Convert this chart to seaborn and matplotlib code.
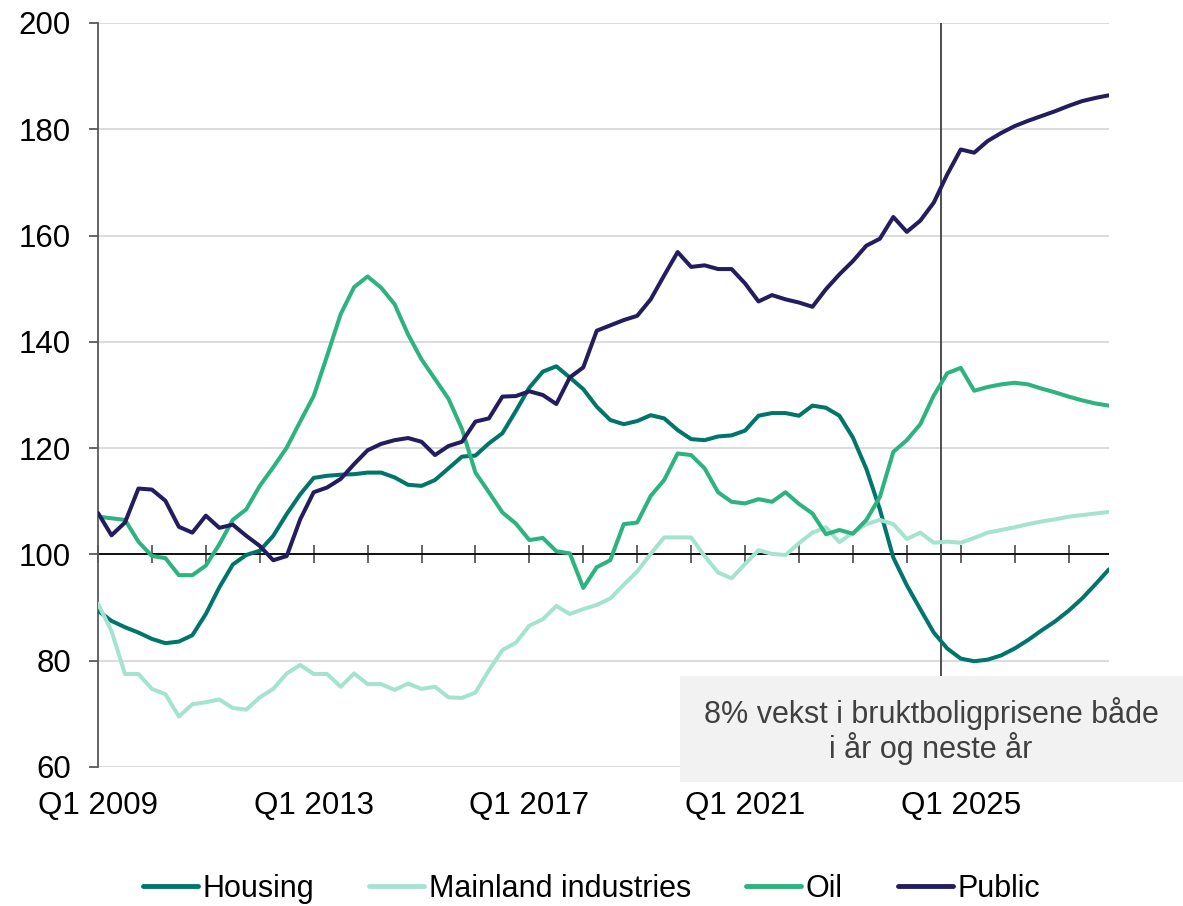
import numpy as np
import pandas as pd
import matplotlib
matplotlib.use('Agg')
import matplotlib.pyplot as plt
from matplotlib.patches import Rectangle
from matplotlib.lines import Line2D
import seaborn as sns

# Quarterly index, Q1 2009 .. Q4 2027
housing = [89.4, 87.5, 86.3, 85.3, 84.1, 83.3, 83.6, 84.8, 88.8, 93.8,
           98.1, 99.9, 100.7, 103.5, 107.6, 111.3, 114.4, 114.8, 115.0, 115.1,
           115.4, 115.4, 114.5, 113.1, 112.9, 114.0, 116.2, 118.4, 118.6, 120.9,
           122.8, 127.0, 131.4, 134.4, 135.4, 133.3, 131.1, 127.8, 125.3, 124.5,
           125.1, 126.2, 125.6, 123.4, 121.7, 121.5, 122.2, 122.4, 123.3, 126.1,
           126.6, 126.6, 126.1, 128.0, 127.6, 126.1, 122.0, 116.1, 108.5, 99.4,
           94.2, 89.7, 85.3, 82.3, 80.4, 79.9, 80.2, 81.0, 82.3, 83.9,
           85.7, 87.4, 89.4, 91.7, 94.4, 97.2]
mainland = [90.7, 85.6, 77.5, 77.5, 74.7, 73.7, 69.5, 71.8, 72.2, 72.7,
            71.1, 70.8, 73.1, 74.7, 77.6, 79.2, 77.5, 77.5, 75.1, 77.6,
            75.6, 75.6, 74.5, 75.7, 74.7, 75.1, 73.1, 73.0, 74.0, 78.2,
            82.0, 83.4, 86.6, 87.8, 90.3, 88.8, 89.7, 90.5, 91.7, 94.3,
            96.8, 100.1, 103.2, 103.2, 103.2, 99.7, 96.6, 95.5, 98.2, 100.8,
            100.1, 99.9, 102.1, 104.1, 105.1, 102.3, 104.1, 105.7, 106.5, 105.7,
            102.9, 104.1, 102.2, 102.4, 102.2, 103.1, 104.1, 104.6, 105.1, 105.7,
            106.2, 106.6, 107.1, 107.4, 107.7, 108.0]
oil = [107.1, 106.8, 106.5, 102.4, 99.7, 99.3, 96.1, 96.1, 97.9, 101.9,
       106.5, 108.5, 112.9, 116.4, 120.1, 125.0, 129.8, 137.4, 145.2, 150.3,
       152.3, 150.2, 147.1, 141.4, 136.7, 133.0, 129.3, 123.6, 115.4, 111.7,
       107.9, 105.8, 102.7, 103.1, 100.6, 100.2, 93.7, 97.6, 98.9, 105.7,
       106.0, 111.0, 114.0, 119.0, 118.7, 116.2, 111.7, 109.9, 109.6, 110.4,
       109.9, 111.7, 109.5, 107.7, 103.8, 104.6, 103.9, 106.5, 110.8, 119.3,
       121.5, 124.5, 129.9, 134.1, 135.1, 130.8, 131.5, 132.0, 132.3, 132.0,
       131.2, 130.5, 129.7, 129.0, 128.4, 128.0]
public = [107.8, 103.6, 106.0, 112.4, 112.2, 110.1, 105.2, 104.1, 107.3, 105.0,
          105.6, 103.5, 101.6, 98.9, 99.7, 106.6, 111.7, 112.6, 114.2, 117.0,
          119.6, 120.8, 121.5, 121.9, 121.2, 118.7, 120.4, 121.2, 125.0, 125.6,
          129.7, 129.8, 130.7, 130.0, 128.3, 133.3, 135.2, 142.1, 143.1, 144.1,
          144.9, 148.0, 152.5, 156.9, 154.1, 154.4, 153.7, 153.7, 151.0, 147.6,
          148.8, 148.0, 147.4, 146.6, 149.9, 152.7, 155.2, 158.1, 159.4, 163.5,
          160.7, 162.8, 166.2, 171.5, 176.2, 175.6, 177.8, 179.3, 180.6, 181.6,
          182.5, 183.4, 184.4, 185.3, 185.9, 186.4]

names = ['Housing', 'Mainland industries', 'Oil', 'Public']
colors = ['#00756b', '#a5e3d1', '#2cb37f', '#231d5e']
tick_labels = ['Q1 2009', 'Q1 2013', 'Q1 2017', 'Q1 2021', 'Q1 2025']
forecast_start = 62.5
note = '8% vekst i bruktboligprisene både\ni år og neste år'

n = len(housing)
df = pd.DataFrame({
    'quarter': np.tile(np.arange(n), 4),
    'series': np.repeat(names, n),
    'value': np.concatenate([housing, mainland, oil, public]),
})

sns.set_style('white')
plt.rcParams['font.family'] = ['Liberation Sans', 'DejaVu Sans']
plt.rcParams['text.color'] = 'black'

W, H = 1183, 906
fig = plt.figure(figsize=(W / 100, H / 100), dpi=100)
ax = fig.add_axes([98 / W, 1 - 767 / H, (1109 - 98) / W, (767 - 23) / H])

sns.lineplot(data=df, x='quarter', y='value', hue='series', hue_order=names,
             palette=colors, linewidth=2.9, legend=False, ax=ax, zorder=3)

ax.set_xlim(0, n - 1)
ax.set_ylim(60, 200)
ax.set_yticks(range(60, 201, 20))
ax.grid(axis='y', color='#d9d9d9', lw=1.3)
ax.grid(axis='x', visible=False)
ax.set_axisbelow(True)
ax.axhline(100, color='black', lw=1.3, zorder=2)
ax.axvline(forecast_start, color='#404040', lw=1.3, zorder=2.5)

for s in ['top', 'right', 'bottom']:
    ax.spines[s].set_visible(False)
ax.spines['left'].set_color('#595959')
ax.spines['left'].set_linewidth(1.3)

ax.tick_params(axis='y', direction='out', length=6.5, width=1.3, color='#595959',
               labelsize=22.5, labelcolor='black', pad=13, left=True)
ax.set_xticks(np.arange(0, n, 16))
ax.set_xticklabels(tick_labels)
ax.tick_params(axis='x', length=0, labelsize=22.5, labelcolor='black', pad=17)
ax.set_xlabel('')
ax.set_ylabel('')

# tick marks sit on the 100 line
sec = ax.secondary_xaxis((100 - 60) / 140)
sec.set_xticks(np.arange(0, n, 4))
sec.tick_params(direction='inout', length=13, width=1.3, color='#595959',
                labelbottom=False, labeltop=False)
for s in sec.spines.values():
    s.set_visible(False)

# note box
fig.add_artist(Rectangle((680 / W, 1 - 782 / H), 503 / W, 106 / H,
                         transform=fig.transFigure, facecolor='#f2f2f2',
                         edgecolor='none', zorder=5))
fig.text(931 / W, 1 - 731 / H, note, ha='center', va='center', fontsize=22,
         color='#404040', zorder=6, linespacing=1.1)

handles = [Line2D([], [], color=c, lw=3.5) for c in colors]
fig.legend(handles, names, loc='center', bbox_to_anchor=(0.5, 1 - 889 / H),
           ncol=4, frameon=False, fontsize=22, labelcolor='black',
           handlelength=1.8, handletextpad=0.15, columnspacing=1.8, borderpad=0)

fig.savefig('out.png', dpi=100)
